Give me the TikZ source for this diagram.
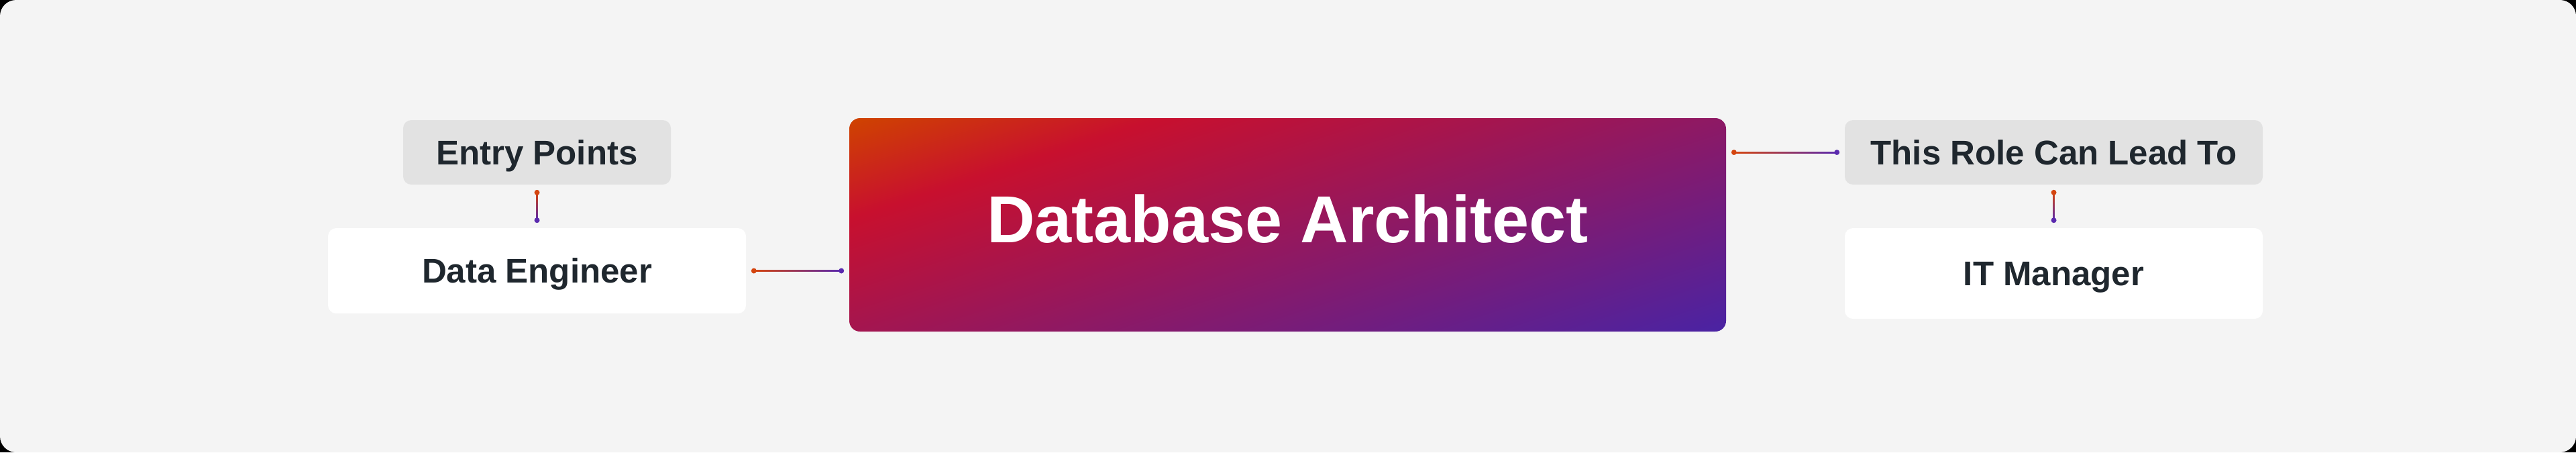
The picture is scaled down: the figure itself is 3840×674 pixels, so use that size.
\documentclass[tikz,border=0pt]{standalone}
\usepackage{fontspec}
\setmainfont{Liberation Sans}
\usetikzlibrary{calc}

\definecolor{bgcol}{HTML}{F4F4F4}
\definecolor{chipgray}{HTML}{E2E2E2}
\definecolor{inkdark}{HTML}{1F272E}
\definecolor{archorange}{HTML}{CF4300}
\definecolor{archred}{HTML}{C8102E}
\definecolor{archpurple}{HTML}{4A23A3}
\definecolor{linkorange}{HTML}{D4450F}
\definecolor{linkpurple}{HTML}{5A2AAE}

% at angle 18 the box runs from 18.6bp (lower right) to 81.4bp (upper left)
\pgfdeclareverticalshading{archfill}{100bp}{color(0bp)=(archpurple); color(18.6bp)=(archpurple);
  color(68.9bp)=(archred); color(81.4bp)=(archorange); color(100bp)=(archorange)}

% connector with a dot at each end
\newcommand{\hlink}[2]{%
  \coordinate (la) at ($(#1)+(2.75pt,0)$);
  \coordinate (lb) at ($(#2)+(-2.75pt,0)$);
  \shade[left color=linkorange, right color=linkpurple] ($(la)+(0,0.25pt)$) rectangle ($(lb)+(0,-0.25pt)$);
  \fill[linkorange] (la) circle (1pt);
  \fill[linkpurple] (lb) circle (1pt);}
\newcommand{\vlink}[2]{%
  \coordinate (la) at ($(#1)+(0,-2.75pt)$);
  \coordinate (lb) at ($(#2)+(0,2.75pt)$);
  \shade[top color=linkorange, bottom color=linkpurple] ($(la)+(-0.25pt,0)$) rectangle ($(lb)+(0.25pt,0)$);
  \fill[linkorange] (la) circle (1pt);
  \fill[linkpurple] (lb) circle (1pt);}

\begin{document}
\begin{tikzpicture}[x=0.25pt,y=-0.25pt,
    label/.style={inner sep=0pt, text=inkdark, font=\fontsize{12.75}{15}\selectfont\bfseries,
      text height=9.1pt, text depth=0pt},
    chip/.style={label, fill=chipgray, rounded corners=3pt, minimum width=99.75pt, minimum height=24pt},
    rolebox/.style={label, fill=white, rounded corners=3pt, minimum width=155.75pt},
    mainrole/.style={shade, shading=archfill, shading angle=18, rounded corners=4pt,
      minimum width=326.75pt, minimum height=79.5pt, inner sep=0pt, text=white,
      font=\fontsize{24.75}{30}\selectfont\bfseries, text height=17.7pt, text depth=4.5pt}]

    \fill[black] (0,0) rectangle (3840,674);
    \fill[bgcol, rounded corners=6pt] (0,0) rectangle (3840,674);

    \node[chip] (entry) at (800.5,227) {Entry Points};
    \node[rolebox, minimum height=31.75pt] (dataeng) at (800.5,403.5) {Data Engineer};

    \node[mainrole] (arch) at (1919.5,335) {Database Architect};

    \node[chip, minimum width=155.75pt] (leadto) at (3061.5,227) {This Role Can Lead To};
    \node[rolebox, minimum height=33.75pt] (itmgr) at (3061.5,407.5) {IT Manager};

    \vlink{entry.south}{dataeng.north}
    \hlink{dataeng.east}{arch.west |- dataeng.east}
    \hlink{arch.east |- leadto.west}{leadto.west}
    \vlink{leadto.south}{itmgr.north}

\end{tikzpicture}
\end{document}
